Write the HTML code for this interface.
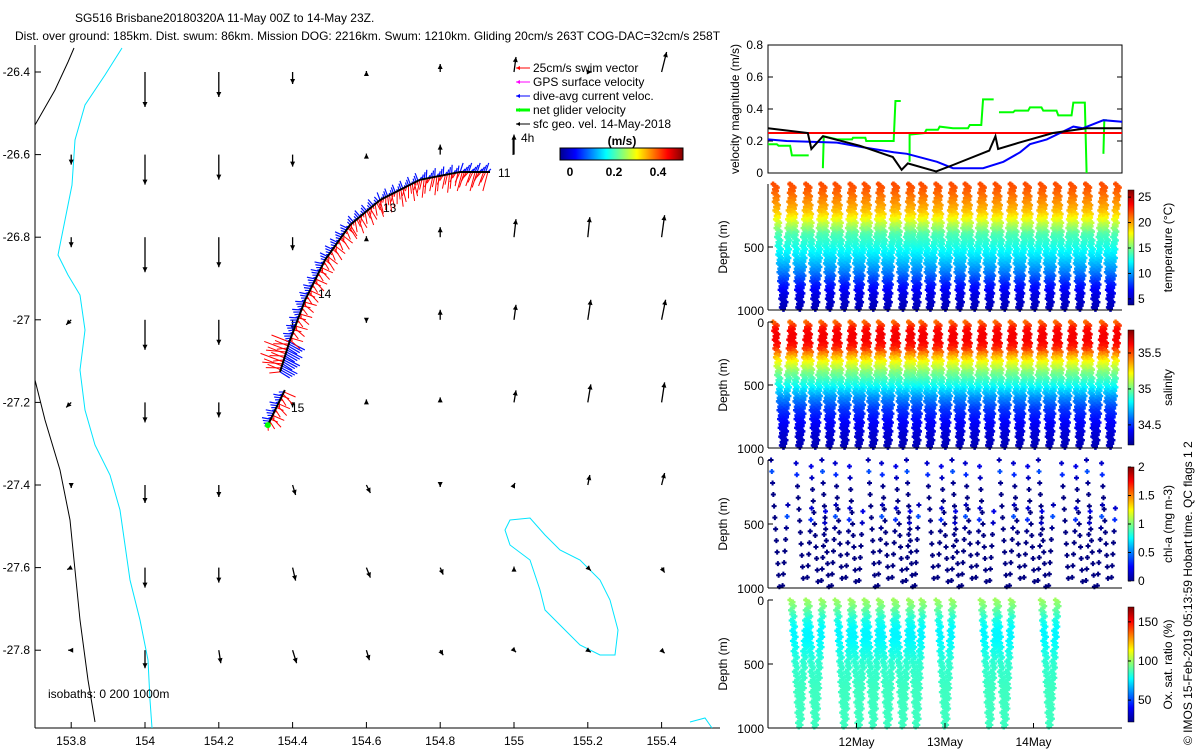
<!DOCTYPE html>
<html><head><meta charset="utf-8"><style>
html,body{margin:0;padding:0;background:#fff;}
svg text{font-family:"Liberation Sans",sans-serif;font-size:12px;fill:#000;}
</style></head><body>
<svg id="s" width="1200" height="750" viewBox="0 0 1200 750" xmlns="http://www.w3.org/2000/svg">
<defs>
<linearGradient id="jetH" x1="0" x2="1" y1="0" y2="0">
<stop offset="0" stop-color="#00008f"/><stop offset="0.125" stop-color="#0000ff"/><stop offset="0.375" stop-color="#00ffff"/><stop offset="0.625" stop-color="#ffff00"/><stop offset="0.875" stop-color="#ff0000"/><stop offset="1" stop-color="#800000"/>
</linearGradient>
<linearGradient id="jetV" x1="0" x2="0" y1="1" y2="0">
<stop offset="0" stop-color="#00008f"/><stop offset="0.125" stop-color="#0000ff"/><stop offset="0.375" stop-color="#00ffff"/><stop offset="0.625" stop-color="#ffff00"/><stop offset="0.875" stop-color="#ff0000"/><stop offset="1" stop-color="#800000"/>
</linearGradient>
</defs>
<text x="75" y="22">SG516 Brisbane20180320A 11-May 00Z to 14-May 23Z.</text>
<text x="15" y="40">Dist. over ground: 185km. Dist. swum: 86km. Mission DOG: 2216km. Swum: 1210km. Gliding 20cm/s 263T COG-DAC=32cm/s 258T</text>
<g id="map"></g>
<g id="vel"></g>
<g id="prof"></g>
<text transform="translate(1192,745) rotate(-90)">© IMOS 15-Feb-2019 05:13:59 Hobart time. QC flags 1  2</text>
</svg>
<script>
// ---------- data ----------
const lonTicks=[153.8,154,154.2,154.4,154.6,154.8,155,155.2,155.4];
const latTicks=[-26.4,-26.6,-26.8,-27,-27.2,-27.4,-27.6,-27.8];
const curU=[
[0,0,0,0,0,0,0.02,0.04,0.05],
[0,0,0,0,0,0,0,0,0],
[0,0,0,0,0,0,0.02,0.02,0.03],
[-0.05,0,0,0,0,0,0.02,0.03,0.04],
[-0.05,0,0,0,0,0,0.02,0.03,0.03],
[0,0,0,0.03,0.04,0,0.01,0.02,0.03],
[-0.04,0,0,0.03,0.04,0.03,0,0.03,0.03],
[-0.03,0,0.02,0.04,0.03,0.03,0.02,0.03,0.03]];
const curV=[
[0,-0.35,-0.25,-0.12,0.01,0.08,0.15,0,0.2],
[-0.1,-0.3,-0.25,-0.12,0.01,0.1,0.2,0,0],
[-0.1,-0.35,-0.3,-0.13,0.01,0.1,0.18,0.2,0.22],
[-0.05,-0.3,-0.25,-0.1,-0.03,0.1,0.15,0.2,0.2],
[-0.05,-0.2,-0.15,-0.05,0.03,0.05,0.12,0.18,0.2],
[-0.03,-0.18,-0.12,-0.1,-0.08,-0.02,0.02,0.1,0.12],
[-0.02,-0.2,-0.15,-0.13,-0.1,-0.07,0.01,-0.03,-0.05],
[0,-0.18,-0.13,-0.13,-0.1,-0.05,-0.02,-0.02,-0.03]];
const trackLon=[154.366,154.393,154.434,154.488,154.556,154.637,154.745,154.854,154.935];
const trackLat=[-27.126,-27.049,-26.952,-26.855,-26.770,-26.710,-26.661,-26.642,-26.642];
const track2Lon=[154.333,154.379];
const track2Lat=[-27.255,-27.170];
const blackT=[0,0.45,0.49,0.62,1.04,1.41,1.51,1.58,1.90,2.09,2.50,2.57,2.60,2.84,3.22,3.60,4.0];
const blackV=[0.28,0.25,0.15,0.23,0.17,0.10,0.02,0.06,0.01,0.05,0.14,0.23,0.15,0.19,0.25,0.28,0.28];
const blueT=[0,0.21,0.78,1.08,1.42,1.57,1.91,2.09,2.43,2.66,2.85,2.96,3.15,3.45,3.56,3.79,4.0];
const blueV=[0.21,0.20,0.19,0.16,0.13,0.12,0.07,0.03,0.03,0.07,0.13,0.18,0.21,0.29,0.28,0.33,0.32];
const greenSegT=[[0,0.10,0.12,0.25,0.27,0.29,0.46],[0.62,0.63,0.78,0.95,0.96,1.10,1.11,1.42,1.44,1.50],[1.60,1.60,1.77,1.79,1.92,1.94,2.09,2.26,2.28,2.41,2.43,2.55],[2.61,2.77,2.79,2.94,2.96,3.09,3.11,3.26,3.28,3.43,3.45,3.58,3.60],[3.79,3.80,3.83]];
const greenSegV=[[0.18,0.18,0.17,0.17,0.11,0.11,0.11],[0.03,0.23,0.21,0.21,0.22,0.22,0.20,0.20,0.45,0.45],[0.07,0.24,0.25,0.27,0.27,0.29,0.28,0.28,0.30,0.30,0.46,0.46],[0.38,0.38,0.39,0.39,0.41,0.41,0.39,0.39,0.36,0.36,0.44,0.44,0.0],[0.12,0.33,0.33]];
const swimSpeed=0.25;
const surfT=[0.08,0.27,0.45,0.62,0.78,0.95,1.11,1.27,1.44,1.61,1.75,1.92,2.09,2.25,2.42,2.59,2.76,2.93,3.10,3.27,3.44,3.61,3.79,3.95];
const profDepth=[0,50,100,150,200,250,300,400,500,600,700,800,900,1000];
const tempProf=[21.9,21.6,21,20.3,19.6,18.6,17,14,12.8,11.3,9.5,7.2,5.8,4.9];
const salProf=[35.45,35.6,35.64,35.63,35.58,35.42,35.25,35.02,34.85,34.65,34.5,34.42,34.35,34.3];
const chlProf=[0.1,0.2,0.45,0.05,0.02,0.01,0,0,0,0,0,0,0,0];
const oxProf=[100,95,88,82,78,76,76,80,84,85,86,86,86,86];
const oxDives=[1,2,4,5,6,7,8,9,11,14,15,18];
const dayLabels=["12May","13May","14May"];
const dayTicks=[1,2,3];

// ---------- helpers ----------
const NS="http://www.w3.org/2000/svg";
function mk(parent,tag,attrs,text){const e=document.createElementNS(NS,tag);for(const k in attrs)e.setAttribute(k,attrs[k]);if(text!==undefined)e.textContent=text;parent.appendChild(e);return e;}
function jet(v){v=Math.max(0,Math.min(1,v));const c=x=>Math.round(255*Math.max(0,Math.min(1,1.5-Math.abs(x))));return `rgb(${c(4*v-3)},${c(4*v-2)},${c(4*v-1)})`;}
function interp(xs,ys,x){for(let i=1;i<xs.length;i++){if(x<=xs[i]){const f=(x-xs[i-1])/(xs[i]-xs[i-1]);return ys[i-1]+f*(ys[i]-ys[i-1]);}}return ys[ys.length-1];}

// ---------- map ----------
const map=document.getElementById('map');
const mx=lon=>145+(lon-154)*369;
const my=lat=>72+(-26.4-lat)*413;
let e=mk(map,'line',{x1:35,y1:45,x2:35,y2:728,stroke:'#000'});

e=mk(map,'line',{x1:35,y1:728,x2:720,y2:728,stroke:'#000'});

lonTicks.forEach(l=>{const t=mk(map,'text',{x:mx(l),y:745,'text-anchor':'middle'},String(l));

mk(map,'line',{x1:mx(l),y1:728,x2:mx(l),y2:722,stroke:'#000'});});
latTicks.forEach(l=>{const t=mk(map,'text',{x:30,y:my(l)+4,'text-anchor':'end'},String(l));

mk(map,'line',{x1:35,y1:my(l),x2:41,y2:my(l),stroke:'#000'});});
function pl(pts,stroke,w,name,close){const p=mk(map,close?'polygon':'polyline',{points:pts.map(q=>q.join(',')).join(' '),fill:'none',stroke:stroke,'stroke-width':w});}
pl([[122,48],[105,75],[85,105],[75,140],[72,185],[65,220],[58,255],[68,275],[80,295],[85,330],[80,370],[85,410],[95,445],[110,475],[120,510],[125,545],[130,580],[140,620],[148,660],[150,700],[152,728]],'#00e5ff',1,'isobath-200m');
pl([[35,125],[55,90],[68,62],[74,48]],'#000',1,'isobath-0m-north');
pl([[35,380],[45,420],[60,470],[70,520],[75,570],[80,620],[88,680],[95,722]],'#000',1,'isobath-0m-south');
pl([[510,520],[530,518],[545,535],[560,550],[580,560],[600,580],[610,600],[618,630],[615,655],[600,655],[580,645],[560,625],[545,610],[540,590],[530,560],[510,545],[505,530]],'#00e5ff',1,'isobath-1000m-loop',true);
mk(map,'polyline',{points:'690,722 705,718 712,728',fill:'none',stroke:'#00e5ff'});
function arrow(g,x0,y0,dx,dy,col,w,hs){const x1=x0+dx,y1=y0+dy;mk(g,'line',{x1:x0,y1:y0,x2:x1,y2:y1,stroke:col,'stroke-width':w});
const L=Math.hypot(dx,dy);if(L<1){mk(g,'rect',{x:x0-1,y:y0-1,width:3,height:3,fill:col});return;}
const ux=dx/L,uy=dy/L;mk(g,'polygon',{points:`${x1},${y1} ${x1-hs*ux+hs*0.5*uy},${y1-hs*uy-hs*0.5*ux} ${x1-hs*ux-hs*0.5*uy},${y1-hs*uy+hs*0.5*ux}`,fill:col});}
latTicks.forEach((la,r)=>lonTicks.forEach((lo,c)=>{
 const u=curU[r][c],v=curV[r][c];if(u===0&&v===0)return;
 const g=mk(map,'g',{});
 arrow(g,mx(lo),my(la),u*100,-v*100,'#000',1.3,5);}));
function trackPts(lons,lats){const pts=lons.map((l,i)=>[mx(l),my(lats[i])]);const out=[];
 for(let i=1;i<pts.length;i++){const[a,b]=[pts[i-1],pts[i]];const L=Math.hypot(b[0]-a[0],b[1]-a[1]);const n=Math.ceil(L/2.2);
 for(let k=0;k<n;k++){const f=k/n;out.push([a[0]+f*(b[0]-a[0]),a[1]+f*(b[1]-a[1]),(b[0]-a[0])/L,(b[1]-a[1])/L]);}}return out;}
function drawTrack(lons,lats,name){const g=mk(map,'g',{});
 const pts=trackPts(lons,lats);
 pts.forEach((p,i)=>{const[x,y,tx,ty]=p;
  // normal pointing "outward" (north/east side)
  let nx=ty,ny=-tx;if(ny>0||(Math.abs(ny)<0.3&&nx<0)){nx=-nx;ny=-ny;}
  const bl=7+(i%4)*2;mk(g,'line',{x1:x,y1:y,x2:x+nx*bl+3,y2:y+ny*bl+4,stroke:'#0010ff','stroke-width':1.2});});
 pts.forEach((p,i)=>{const[x,y,tx,ty]=p;
  let nx=ty,ny=-tx;if(ny>0||(Math.abs(ny)<0.3&&nx<0)){nx=-nx;ny=-ny;}
  const rl=6+(i%6)*2.5;mk(g,'line',{x1:x,y1:y,x2:x-nx*rl-5,y2:y-ny*rl+(i%2?-3:3),stroke:'#ff0000','stroke-width':1});});
 mk(g,'polyline',{points:lons.map((l,i)=>mx(l)+','+my(lats[i])).join(' '),fill:'none',stroke:'#000','stroke-width':2});}
drawTrack(trackLon,trackLat,'glider-track-main');
drawTrack(track2Lon,track2Lat,'glider-track-south');
mk(map,'circle',{cx:mx(track2Lon[0]),cy:my(track2Lat[0]),r:3,fill:'#00ff00'});
[['11',498,177],['13',383,212],['14',318,298],['15',291,412]].forEach(d=>{const t=mk(map,'text',{x:d[1],y:d[2]},d[0]);});
const leg=[['25cm/s swim vector','#ff0000',1],['GPS surface velocity','#ff00ff',1],['dive-avg current veloc.','#0000ff',1],['net glider velocity','#00ff00',3],['sfc geo. vel. 14-May-2018','#000',1]];
leg.forEach((d,i)=>{const g=mk(map,'g',{});
 const y=68+i*14;arrow(g,530,y,-14,0,d[1],d[2],4);mk(g,'text',{x:533,y:y+4},d[0]);});
e=mk(map,'text',{x:521,y:142},'4h');
mk(map,'line',{x1:513,y1:155,x2:513,y2:138,stroke:'#000'});
e=mk(map,'text',{x:622,y:145,'text-anchor':'middle','font-weight':'bold'},'(m/s)');
e=mk(map,'rect',{x:560,y:148,width:123,height:12,fill:'url(#jetH)',stroke:'#000'});
[['0',570],['0.2',614],['0.4',658]].forEach(d=>{const t=mk(map,'text',{x:d[1],y:176,'text-anchor':'middle','font-weight':'bold'},d[0]);});
e=mk(map,'text',{x:48,y:698},'isobaths: 0   200  1000m');
e.setAttribute('xml:space','preserve');

// ---------- velocity panel ----------
const vel=document.getElementById('vel');
const PX0=768,PX1=1122;
const tx=t=>PX0+t*88.5;
const vy=v=>173-v*160;
e=mk(vel,'rect',{x:PX0,y:45,width:PX1-PX0,height:128,fill:'none',stroke:'#000'});
[0,0.2,0.4,0.6,0.8].forEach(v=>{const t=mk(vel,'text',{x:763,y:vy(v)+4,'text-anchor':'end'},String(v));
 mk(vel,'line',{x1:PX0,y1:vy(v),x2:PX0+5,y2:vy(v),stroke:'#000'});mk(vel,'line',{x1:PX1,y1:vy(v),x2:PX1-5,y2:vy(v),stroke:'#000'});});
e=mk(vel,'text',{transform:'translate(739,109) rotate(-90)','text-anchor':'middle'},'velocity magnitude (m/s)');
function series(ts,vs,col,name){const p=mk(vel,'polyline',{points:ts.map((t,i)=>tx(t)+','+vy(vs[i])).join(' '),fill:'none',stroke:col,'stroke-width':2});}
greenSegT.forEach((ts,i)=>series(ts,greenSegV[i],'#00ff00','net-glider-velocity-line'));
e=mk(vel,'line',{x1:PX0,y1:vy(swimSpeed),x2:PX1,y2:vy(swimSpeed),stroke:'#ff0000','stroke-width':2});
series(blueT,blueV,'#0000ff','dive-avg-current-line');
series(blackT,blackV,'#000','sfc-geo-velocity-line');

// ---------- profile panels ----------
const prof=document.getElementById('prof');
const panels=[
 {name:'temperature',top:184,bot:310,data:tempProf,vmin:3.8,vmax:26.4,cb:[190,305],ticks:[5,10,15,20,25],label:'temperature (°C)',dives:null,step:14,sw:2.4},
 {name:'salinity',top:322,bot:448,data:salProf,vmin:34.22,vmax:35.82,cb:[330,445],ticks:[34.5,35,35.5],label:'salinity',dives:null,step:14,sw:2.4},
 {name:'chl-a',top:460,bot:588,data:chlProf,vmin:0,vmax:2,cb:[467,581],ticks:[0,0.5,1,1.5,2],label:'chl-a (mg m-3)',dives:null,step:90,sw:2},
 {name:'oxygen',top:600,bot:728,data:oxProf,vmin:22,vmax:169,cb:[607,722],ticks:[50,100,150],label:'Ox. sat. ratio (%)',dives:oxDives,step:16,sw:2.2}];
panels.forEach((P,pi)=>{
 const g=mk(prof,'g',{});
 const dy=d=>P.top+d/1000*(P.bot-P.top);
 const list=P.dives||surfT.slice(0,-1).map((_,i)=>i);
 list.forEach(i=>{const t0=surfT[i],t1=surfT[i+1],tm=(t0+t1)/2;
  for(let d=(pi===2?(i%3)*25:0);d<=1000;d+=P.step){
   const c=jet((interp(profDepth,P.data,d)-P.vmin)/(P.vmax-P.vmin));
   [t0+(tm-t0)*d/1000,t1-(t1-tm)*d/1000].forEach((t,k)=>{
    const wob=(pi===2)?((d*7+i*13)%9)-4:((d*3+i*5)%5)-2;
    const x=tx(t)+wob,y=dy(d)+(pi===2&&k===1?P.step/2:0);
    if(y>P.bot)return;
    const m=mk(g,'path',{d:`M${x-2.5},${y}h5M${x},${y-2.5}v5`,stroke:c,'stroke-width':P.sw});
    });}});
 mk(g,'line',{x1:PX0,y1:P.top,x2:PX0,y2:P.bot,stroke:'#000'});
 mk(g,'line',{x1:PX0,y1:P.bot,x2:PX1,y2:P.bot,stroke:'#000'});
 [0,500,1000].forEach(d=>{if(pi===0&&d===0)return;const t=mk(g,'text',{x:764,y:dy(d)+5,'text-anchor':'end'},String(d));mk(g,'line',{x1:PX0,y1:dy(d),x2:PX0+5,y2:dy(d),stroke:'#000'});});
 const yt=mk(g,'text',{transform:`translate(727,${(P.top+P.bot)/2}) rotate(-90)`,'text-anchor':'middle'},'Depth (m)');
 const cb=mk(g,'rect',{x:1128,y:P.cb[0],width:6,height:P.cb[1]-P.cb[0],fill:'url(#jetV)',stroke:'#000','stroke-width':0.5});
 const cy=v=>P.cb[1]-(v-P.vmin)/(P.vmax-P.vmin)*(P.cb[1]-P.cb[0]);
 P.ticks.forEach(v=>{const t=mk(g,'text',{x:1138,y:cy(v)+4},String(v));mk(g,'line',{x1:1128,y1:cy(v),x2:1131,y2:cy(v),stroke:'#000'});});
 const ct=mk(g,'text',{transform:`translate(1172,${(P.cb[0]+P.cb[1])/2}) rotate(-90)`,'text-anchor':'middle'},P.label);
});
dayTicks.forEach((d,i)=>{const t=mk(prof,'text',{x:tx(d),y:746,'text-anchor':'middle'},dayLabels[i]);
 mk(prof,'line',{x1:tx(d),y1:728,x2:tx(d),y2:723,stroke:'#000'});});
</script>
</body></html>
